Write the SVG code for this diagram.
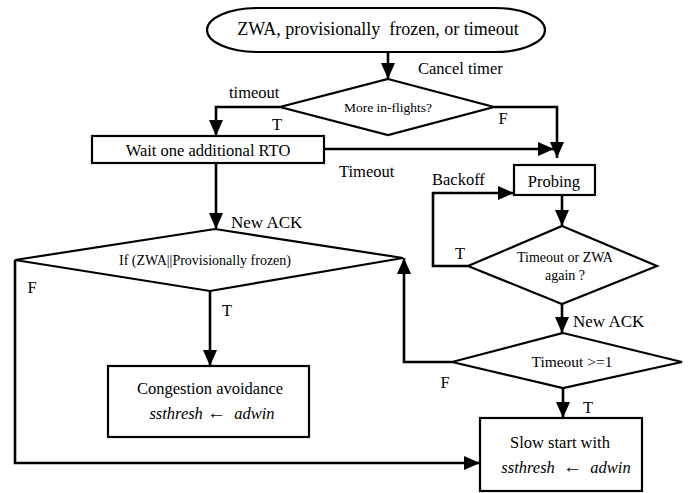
<svg xmlns="http://www.w3.org/2000/svg" width="694" height="493" viewBox="0 0 694 493" font-family="'Liberation Serif', 'DejaVu Serif', serif">
<style>
.shape{fill:#fff;stroke:#000;stroke-width:2.2}
.conn{fill:none;stroke:#000;stroke-width:2.6;stroke-linejoin:miter}
text{font-family:'Liberation Serif','DejaVu Serif',serif;fill:#000;font-size:16.5px}
.mid{text-anchor:middle}
.sm{font-size:14px}
.it{font-style:italic}
.arw{font-size:19px}
</style>
<defs>
<marker id="ah" viewBox="0 0 16 14" refX="16" refY="7" markerWidth="16" markerHeight="14" markerUnits="userSpaceOnUse" orient="auto">
<path d="M0,0 L16,7 L0,14 z" fill="#000"/>
</marker>
</defs>
<rect width="694" height="493" fill="#fff"/>

<g id="connectors">
<path class="conn" d="M388,52 L388,79" marker-end="url(#ah)"/>
<path class="conn" d="M280,107 L216,107 L216,136" marker-end="url(#ah)"/>
<path class="conn" d="M494,107 L557,107 L557,158" marker-end="url(#ah)"/>
<path class="conn" d="M324,149 L554,149" marker-end="url(#ah)"/>
<path class="conn" d="M216,163 L216,229" marker-end="url(#ah)"/>
<path class="conn" d="M15,260 L15,463 L480,463" marker-end="url(#ah)"/>
<path class="conn" d="M210,291 L210,366" marker-end="url(#ah)"/>
<path class="conn" d="M562,195 L562,226" marker-end="url(#ah)"/>
<path class="conn" d="M468,266 L433,266 L433,193 L514,193" marker-end="url(#ah)"/>
<path class="conn" d="M562,304 L562,333" marker-end="url(#ah)"/>
<path class="conn" d="M452,362 L404,362 L404,258" marker-end="url(#ah)"/>
<path class="conn" d="M563,388 L563,418" marker-end="url(#ah)"/>
</g>

<g id="start">
<rect class="shape" x="207" y="8" width="338" height="44" rx="50" ry="22"/>
<text class="mid" x="378" y="35" style="font-size:18px;white-space:pre">ZWA, provisionally  frozen, or timeout</text>
</g>

<g id="more-inflights">
<polygon class="shape" points="388,79 494,107 388,135 280,107"/>
<text class="mid" x="388" y="112" style="font-size:13.5px">More in-flights?</text>
</g>

<g id="wait-rto">
<rect class="shape" x="92" y="136" width="232" height="27"/>
<text class="mid" x="208" y="156">Wait one additional RTO</text>
</g>

<g id="probing">
<rect class="shape" x="514" y="165" width="81" height="30"/>
<text class="mid" x="554" y="187">Probing</text>
</g>

<g id="timeout-zwa">
<polygon class="shape" points="562,226 657,266 562,304 468,266"/>
<text class="mid sm" x="565" y="262">Timeout or ZWA</text>
<text class="mid sm" x="565" y="280">again ?</text>
</g>

<g id="zwa-frozen">
<polygon class="shape" points="215,229 403,258 210,291 15,260"/>
<text class="mid sm" x="205" y="265">If (ZWA||Provisionally frozen)</text>
</g>

<g id="timeout-ge1">
<polygon class="shape" points="563,333 682,362 563,388 452,362"/>
<text class="mid" x="572" y="367" style="font-size:15.5px">Timeout &gt;=1</text>
</g>

<g id="congestion-avoidance">
<rect class="shape" x="108" y="366" width="201" height="71"/>
<text class="mid" x="210" y="394">Congestion avoidance</text>
<text class="mid" x="212" y="419" style="white-space:pre"><tspan class="it">ssthresh</tspan> <tspan class="arw">←</tspan>  <tspan class="it">adwin</tspan></text>
</g>

<g id="slow-start">
<rect class="shape" x="480" y="418" width="162" height="73"/>
<text class="mid" x="560" y="448">Slow start with</text>
<text class="mid" x="566" y="473" style="white-space:pre"><tspan class="it">ssthresh</tspan>  <tspan class="arw">←</tspan>  <tspan class="it">adwin</tspan></text>
</g>

<g id="labels">
<text x="418" y="74">Cancel timer</text>
<text x="229" y="98">timeout</text>
<text class="mid" x="277" y="130">T</text>
<text class="mid" x="503" y="124">F</text>
<text x="339" y="177">Timeout</text>
<text x="432" y="185">Backoff</text>
<text x="231" y="228" style="font-size:17px">New ACK</text>
<text class="mid" x="460" y="259">T</text>
<text class="mid" x="32" y="293">F</text>
<text class="mid" x="227" y="316">T</text>
<text x="573" y="327" style="font-size:17px">New ACK</text>
<text class="mid" x="445" y="388">F</text>
<text class="mid" x="588" y="413">T</text>
</g>
</svg>
